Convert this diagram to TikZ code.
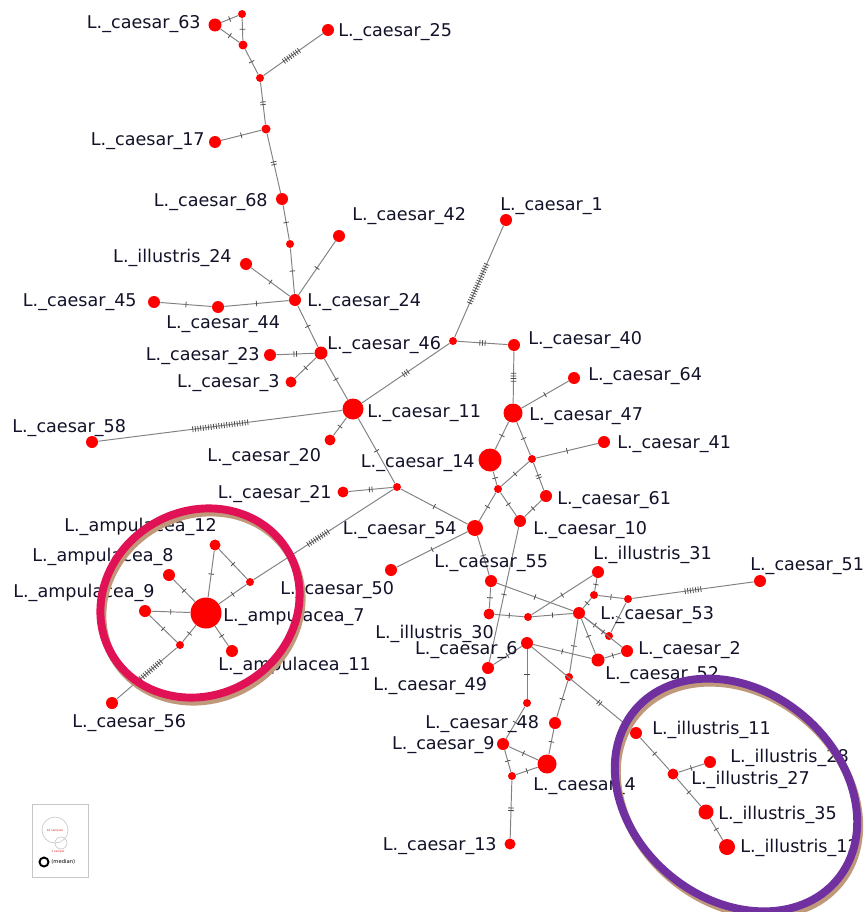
\documentclass[tikz,border=0pt]{standalone}
\usepackage{fontspec}
\setmainfont{DejaVu Sans}
\usetikzlibrary{decorations.markings}
\definecolor{txt}{RGB}{18,18,40}
\definecolor{edge}{RGB}{130,130,130}
\definecolor{ringred}{RGB}{224,17,85}
\definecolor{ringpurple}{RGB}{112,48,160}
\definecolor{ringshade}{RGB}{192,152,122}
\tikzset{
  hap/.style={circle,fill=red,inner sep=0pt,minimum size=#1*0.2mm},
  hap/.default=12,
  lbl/.style={font=\fontsize{10}{12}\selectfont,text=txt,inner sep=0pt,
    text height=7.3pt,text depth=0pt},
  link/.style={draw=edge,line width=0.55pt},
  hatch/.style 2 args={postaction={decorate,decoration={markings,
    mark=at position #1 with {\foreach \k in {1,...,#2}
      \draw[edge!60!black,line width=0.45pt] ({(\k-(#2+1)/2)*1.5pt},-1.6pt) -- ++(0,3.2pt);}}}},
  mut/.style={hatch={0.5}{1}},
  ring/.style={line width=4.5pt}
}
\begin{document}
\begin{tikzpicture}[x=0.2mm,y=-0.2mm]
\fill[white] (0,0) rectangle (867,912);
\useasboundingbox (0,0) rectangle (867,912);

% haplotypes and median vectors
\foreach \n/\x/\y/\s in {
  c63/215/25/13, j1/242/14/8, j2/243/45/9, c25/328/30/12, j3/260/78/8,
  j4/266/129/9, c17/215/142/12, c68/282/199/12, j5/290/244/8, c42/339/236/12,
  il24/246/264/12, c24/295/300/12, c45/154/302/12, c44/218/307/12,
  c46/321/353/13, c23/270/355/12, c3/291/382/11, c11/353/409/21,
  c58/92/442/12, c20/330/440/11, c1/506/220/12, j6/453/341/8,
  c40/514/345/12, c47/513/413/19, c64/574/378/12, j7/532/459/8,
  c41/604/442/12, c61/546/496/12, c14/490/460/23, j8/498/489/8,
  c10/520/521/12, j9/397/487/8, c21/343/492/11, c54/475/528/16,
  c50/391/570/12, c55/491/581/12, il30/489/614/11, j10/528/617/8,
  c53/579/613/12, il31/598/572/12, j11/594/595/8, j12/628/599/8,
  c51/760/581/12, j13/609/636/8, c2/627/651/12, c52/598/660/13,
  c6/527/643/12, c49/488/668/12, j14/569/677/8, j15/527/703/8,
  c48/555/723/12, c9/503/744/12, c4/547/764/19, j16/512/776/8,
  c13/510/844/11, il11/636/733/12, il28/710/762/12, il27/673/774/11,
  il35/706/812/15, il12/727/847/16,
  a7/206/613/31, a12/215/545/11, a8/169/575/12, a9/145/611/12,
  j17/250/582/8, j18/180/645/8, a11/232/651/12, c56/112/703/12}
  \node[hap=\s] (\n) at (\x,\y) {};

% one mutation
\foreach \a/\b in {c63/j1, c63/j2, j1/j2, j2/j3, j4/c17, c68/j5, j5/c24,
  c24/c42, c24/il24, c24/c44, c44/c45, c24/c46, c46/c3, c46/c11, c11/c20,
  c11/j9, c47/c64, c47/c14, c14/j8, c47/j7, j7/c41, j7/j8, j8/c10,
  c61/c10, j8/c54, j9/c54, c54/c50, c54/c55, c55/il30, c55/c53,
  il30/j10, j10/c53, j10/il31, c10/c49, c49/c6, il31/j11, j11/c53,
  j11/j12, j12/j13, c53/j13, c53/c2, c53/c52, c52/c2, c6/c52, c6/j15,
  c53/j14, j14/c48, j15/c9, c48/c4, c9/c4, c9/j16, j16/c4,
  il11/il27, il27/il28, il27/il35, il35/il12,
  a7/a12, a12/j17, j17/a7, a7/a8, a7/a9, a9/j18, j18/a7, a7/a11}
  \draw[link,mut] (\a) -- (\b);

% several mutations
\draw[link,hatch={0.5}{2}] (j3) -- (j4);
\draw[link,hatch={0.5}{2}] (j4) -- (c68);
\draw[link,hatch={0.5}{2}] (c46) -- (c23);
\draw[link,hatch={0.5}{2}] (j9) -- (c21);
\draw[link,hatch={0.5}{2}] (j7) -- (c61);
\draw[link,hatch={0.5}{2}] (j16) -- (c13);
\draw[link,hatch={0.68}{2}] (c6) -- (il11);
\draw[link,hatch={0.5}{3}] (c11) -- (j6);
\draw[link,hatch={0.5}{3}] (j6) -- (c40);
\draw[link,hatch={0.5}{4}] (c40) -- (c47);
\draw[link,hatch={0.47}{8}] (j3) -- (c25);
\draw[link,hatch={0.5}{22}] (c58) -- (c11);
\draw[link,hatch={0.48}{17}] (j6) -- (c1);
\draw[link,hatch={0.54}{10}] (j9) -- (j17);
\draw[link,hatch={0.45}{12}] (j18) -- (c56);
\draw[link,hatch={0.5}{7}] (j12) -- (c51);

% sample names
\foreach \n/\a/\x/\y/\t in {
  c63/east/201/22/L.\_caesar\_63, c25/west/338/30/L.\_caesar\_25,
  c17/east/205/139/L.\_caesar\_17, c68/east/268/200/L.\_caesar\_68,
  c42/west/352/214/L.\_caesar\_42, c1/west/500/204/L.\_caesar\_1,
  il24/east/232/256/L.\_illustris\_24, c24/west/307/300/L.\_caesar\_24,
  c45/east/137/300/L.\_caesar\_45, c44/west/166/322/L.\_caesar\_44,
  c46/west/327/343/L.\_caesar\_46, c23/east/260/354/L.\_caesar\_23,
  c3/east/280/381/L.\_caesar\_3, c11/west/367/411/L.\_caesar\_11,
  c58/west/12/426/L.\_caesar\_58, c20/west/207/455/L.\_caesar\_20,
  c40/west/528/338/L.\_caesar\_40, c64/west/588/374/L.\_caesar\_64,
  c47/west/529/414/L.\_caesar\_47, c41/west/617/442/L.\_caesar\_41,
  c14/east/475/461/L.\_caesar\_14, c61/west/557/498/L.\_caesar\_61,
  c21/east/332/492/L.\_caesar\_21, c10/west/533/528/L.\_caesar\_10,
  c54/east/457/528/L.\_caesar\_54, c50/west/280/588/L.\_caesar\_50,
  c55/west/434/561/L.\_caesar\_55, il31/west/593/553/L.\_illustris\_31,
  c51/west/750/564/L.\_caesar\_51, il30/west/375/632/L.\_illustris\_30,
  c53/west/600/613/L.\_caesar\_53, c6/east/518/648/L.\_caesar\_6,
  c2/west/638/648/L.\_caesar\_2, c52/west/605/673/L.\_caesar\_52,
  c49/west/373/684/L.\_caesar\_49, c48/west/425/722/L.\_caesar\_48,
  c9/east/495/743/L.\_caesar\_9, c4/west/533/784/L.\_caesar\_4,
  c13/east/497/844/L.\_caesar\_13, il11/west/652/728/L.\_illustris\_11,
  il28/west/730/756/L.\_illustris\_28, il27/west/691/778/L.\_illustris\_27,
  il35/west/718/813/L.\_illustris\_35, il12/west/740/846/L.\_illustris\_12,
  a12/west/64/525/L.\_ampulacea\_12, a8/west/32/555/L.\_ampulacea\_8,
  a9/west/13/591/L.\_ampulacea\_9, a7/west/223/615/L.\_ampulacea\_7,
  a11/west/218/664/L.\_ampulacea\_11, c56/west/72/721/L.\_caesar\_56}
  \node[lbl,anchor=\a] (\n-l) at (\x,\y) {\t};

% size legend
\node[draw=gray!45,line width=0.5pt,minimum width=56*0.2mm,minimum height=73*0.2mm,
  inner sep=0pt] (key) at (60,841) {};
\node[draw=gray!40,circle,minimum size=26*0.2mm,inner sep=0pt] (key10) at (55,830) {};
\node[draw=gray!40,circle,minimum size=12*0.2mm,inner sep=0pt] (key1) at (61,843) {};
\node[text=red!70!gray,font=\fontsize{1.6}{2}\selectfont,inner sep=0pt] (key10-l) at (55,831) {10 samples};
\node[text=red!70!gray,font=\fontsize{1.6}{2}\selectfont,inner sep=0pt] (key1-l) at (58,852) {1 sample};
\node[draw=black,circle,line width=1.1pt,minimum size=9*0.2mm,inner sep=0pt] (keymv) at (44,862) {};
\node[font=\fontsize{3}{4}\selectfont,inner sep=0pt,anchor=west] (keymv-l) at (51,862) {(median)};

% highlighted groups
\draw[ring,ringshade,rotate around={30:(202,607)}] (202,607) ellipse [x radius=102,y radius=92];
\draw[ring,ringred,rotate around={30:(200,603)}] (200,603) ellipse [x radius=102,y radius=92];
\draw[ring,ringshade,rotate around={-40:(738,799)}] (738,799) ellipse [x radius=132,y radius=104];
\draw[ring,ringpurple,rotate around={-40:(736,795)}] (736,795) ellipse [x radius=132,y radius=104];
\end{tikzpicture}
\end{document}
